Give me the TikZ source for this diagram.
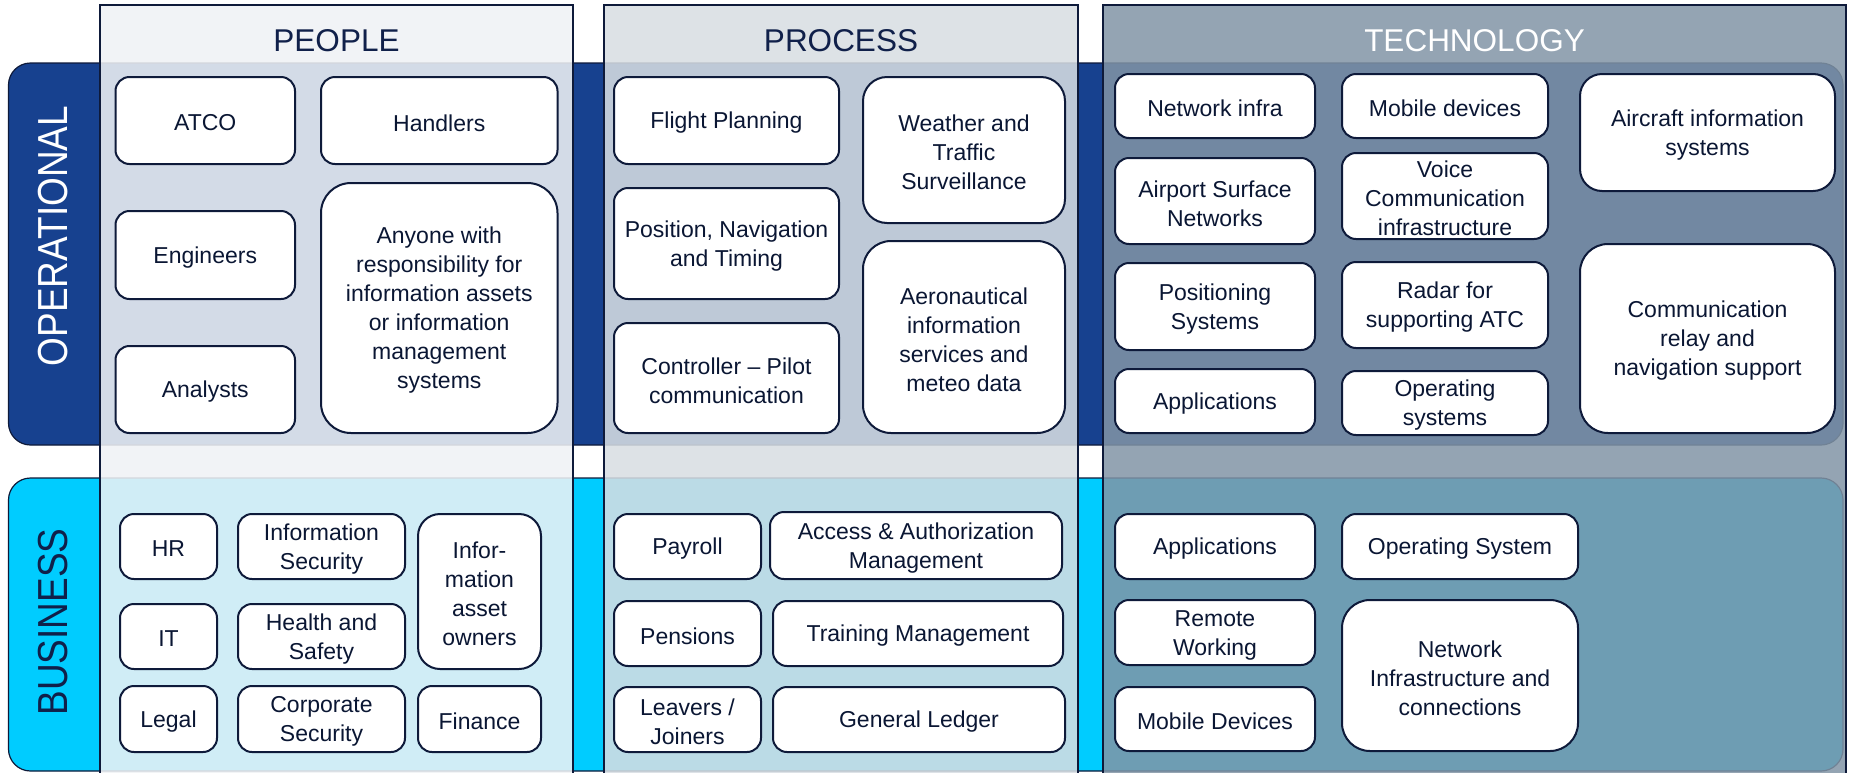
\documentclass[tikz,border=0pt]{standalone}
\usepackage{fontspec}
\usepackage{graphicx}
\setmainfont{Liberation Sans}
\definecolor{navyband}{HTML}{17418F}
\definecolor{cyanband}{HTML}{00CCFF}
\definecolor{edge}{HTML}{0E1A3A}
\definecolor{boxtext}{HTML}{0A1633}
\definecolor{headnavy}{HTML}{10204A}
\definecolor{colpeople}{HTML}{F0F2F5}
\definecolor{colprocess}{HTML}{D8DEE3}
\definecolor{coltech}{HTML}{8295A6}
\tikzset{
  bandshape/.style={draw=edge, line width=1.2pt, rounded corners=22pt},
  colshape/.style={draw=edge, line width=1.5pt},
  box/.style={draw=edge, line width=2pt, fill=white, inner sep=0pt},
  boxlabel/.style={text=boxtext, align=center, inner sep=0pt,
    font=\fontsize{23}{29}\selectfont, yshift=-2.5pt},
  headtext/.style={font=\fontsize{31.5}{32}\selectfont, inner sep=0pt},
  bandlabel/.style={rotate=90, font=\fontsize{42}{42}\selectfont, inner sep=0pt}
}
\newcommand\bx[7][14]{%
  \pgfmathsetmacro\bxcx{(#3+#5)/2}%
  \pgfmathsetmacro\bxcy{(#4+#6)/2}%
  \pgfmathsetmacro\bxw{#5-#3}%
  \pgfmathsetmacro\bxh{#6-#4}%
  \node[box, rounded corners=#1pt, minimum width=\bxw pt, minimum height=\bxh pt] (#2) at (\bxcx,\bxcy) {};
  \node[boxlabel] (#2-t) at (#2.center) {#7};}
\begin{document}
\begin{tikzpicture}[x=1pt,y=-1pt]
\useasboundingbox (0,0) rectangle (1852,772);
\clip (0,0) rectangle (1852,772);
\fill[white] (0,0) rectangle (1852,772);
% bands
\draw[bandshape, fill=navyband] (8.5,63) rectangle (1843,445);
\draw[bandshape, fill=cyanband] (8.5,478) rectangle (1843,771);
% columns
\draw[colshape, fill=colpeople, fill opacity=0.87] (100,5) rectangle (573,800);
\draw[colshape, fill=colprocess, fill opacity=0.865] (604,5) rectangle (1078,800);
\draw[colshape, fill=coltech, fill opacity=0.85] (1103,5) rectangle (1846,800);
% headers
\node[headtext, text=headnavy] (hpeople) at (336.5,41) {PEOPLE};
\node[headtext, text=headnavy] (hprocess) at (841,41) {PROCESS};
\node[headtext, text=white] (htech) at (1474.5,41) {TECHNOLOGY};
% band labels
\node[bandlabel, text=white] (lop) at (53,236) {\scalebox{0.88}[1]{OPERATIONAL}};
\node[bandlabel, text=headnavy] (lbus) at (53,622) {\scalebox{0.88}[1]{BUSINESS}};
% People / operational
\bx{atco}{115.5}{77}{295}{164}{ATCO}
\bx{handlers}{321}{77}{557.5}{164}{Handlers}
\bx{engineers}{115.5}{211}{295}{299}{Engineers}
\bx[30]{anyone}{321}{183}{557.5}{433}{Anyone with\\responsibility for\\information assets\\or information\\management\\systems}
\bx{analysts}{115.5}{346}{295}{433}{Analysts}
% Process / operational
\bx{flight}{614}{77}{839}{164}{Flight Planning}
\bx[24]{weather}{863}{77}{1065}{223}{Weather and\\Traffic\\Surveillance}
\bx{pnt}{614}{188}{839}{299}{Position, Navigation\\and Timing}
\bx[28]{aero}{863}{241}{1065}{433}{Aeronautical\\information\\services and\\meteo data}
\bx{ctrl}{614}{323}{839}{433}{Controller – Pilot\\communication}
% Technology / operational
\bx{netinfra}{1115}{74}{1315}{138}{Network infra}
\bx{mobdev}{1342}{74}{1548}{138}{Mobile devices}
\bx[22]{aircraft}{1580}{74}{1835}{191}{Aircraft information\\systems}
\bx{airport}{1115}{158}{1315}{244}{Airport Surface\\Networks}
\bx{voice}{1342}{153}{1548}{239}{Voice\\Communication\\infrastructure}
\bx{posys}{1115}{263}{1315}{350}{Positioning\\Systems}
\bx{radar}{1342}{262}{1548}{348}{Radar for\\supporting ATC}
\bx[28]{relay}{1580}{244}{1835}{433}{Communication\\relay and\\navigation support}
\bx{apps}{1115}{369}{1315}{433}{Applications}
\bx{opsys}{1342}{371}{1548}{435}{Operating\\systems}
% People / business
\bx{hr}{120}{514}{217}{579}{HR}
\bx{infosec}{238}{514}{405}{579}{Information\\Security}
\bx[22]{assetown}{418}{514}{541}{669}{Infor-\\mation\\asset\\owners}
\bx{it}{120}{604}{217}{669}{IT}
\bx{health}{238}{604}{405}{669}{Health and\\Safety}
\bx{legal}{120}{686}{217}{752}{Legal}
\bx{corpsec}{238}{686}{405}{752}{Corporate\\Security}
\bx{finance}{418}{686}{541}{752}{Finance}
% Process / business
\bx{payroll}{614}{514}{761}{579}{Payroll}
\bx{access}{770}{512}{1062}{579}{Access \& Authorization\\Management}
\bx{pensions}{614}{601}{761}{666}{Pensions}
\bx{training}{773}{601}{1063}{666}{Training Management}
\bx{leavers}{614}{687}{761}{752}{Leavers /\\Joiners}
\bx{ledger}{773}{687}{1065}{752}{General Ledger}
% Technology / business
\bx{bapps}{1115}{514}{1315}{579}{Applications}
\bx{bopsys}{1342}{514}{1578}{579}{Operating System}
\bx{remote}{1115}{600}{1315}{665}{Remote\\Working}
\bx[28]{netconn}{1342}{600}{1578}{751}{Network\\Infrastructure and\\connections}
\bx{bmobile}{1115}{687}{1315}{751}{Mobile Devices}
\end{tikzpicture}
\end{document}
